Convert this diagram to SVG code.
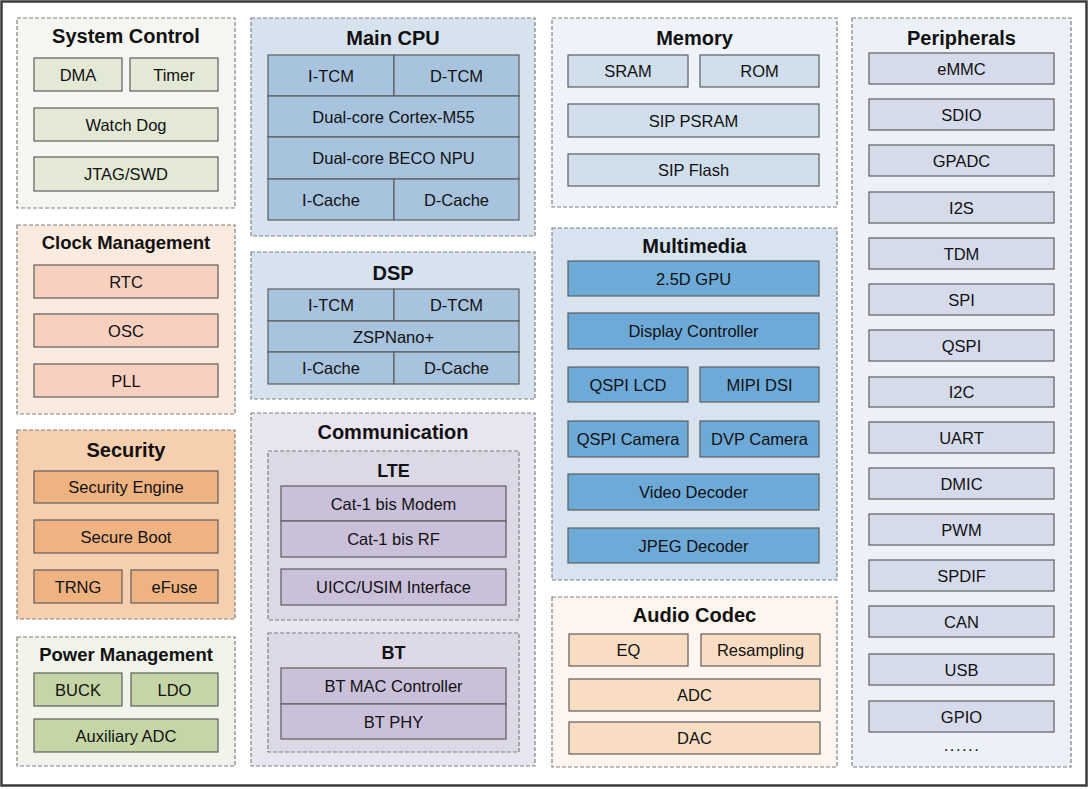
<svg xmlns="http://www.w3.org/2000/svg" width="1092" height="789" viewBox="0 0 1092 789">
<style>
text{font-family:"Liberation Sans",Arial,sans-serif;fill:#111;text-anchor:middle;dominant-baseline:central}
.t{font-weight:bold;font-size:20px}
.st{font-weight:bold;font-size:18px}
.i{font-size:16.5px}
.grp{stroke:#808080;stroke-width:1.2;stroke-dasharray:4 2}
.it{stroke:#5e5e5e;stroke-width:1.2}
.sc{fill:#f5f6f1}.sci{fill:#e4e9d6}
.ck{fill:#fbeade}.cki{fill:#f8d0c0}
.se{fill:#f6cfae}.sei{fill:#efb382}
.pw{fill:#f0f4ea}.pwi{fill:#c6d5a6}
.cp{fill:#d6e3ee}.cpi{fill:#a7c3dd}
.co{fill:#e8e5f0}.lt{fill:#dcd8e6}.coi{fill:#cbc0d9}
.me{fill:#eff2f8}.mei{fill:#d1dfec}
.mm{fill:#d7e4ef}.mmi{fill:#6eaad7}
.au{fill:#fdf5ee}.aui{fill:#f9ddc3}
.pe{fill:#ecf0f7}.pei{fill:#d6dbec}
</style>
<rect x="1.5" y="1.5" width="1085" height="784" fill="#ffffff" stroke="#3c3c3c" stroke-width="2.5"/>

<g id="system-control">
<rect class="grp sc" x="17" y="18" width="218" height="190"/>
<text class="t" x="126" y="36">System Control</text>
<rect class="it sci" x="34" y="58" width="88" height="33"/><text class="i" x="78" y="74.5">DMA</text>
<rect class="it sci" x="130" y="58" width="88" height="33"/><text class="i" x="174" y="74.5">Timer</text>
<rect class="it sci" x="34" y="108" width="184" height="33"/><text class="i" x="126" y="124.5">Watch Dog</text>
<rect class="it sci" x="34" y="157" width="184" height="34"/><text class="i" x="126" y="174">JTAG/SWD</text>
</g>

<g id="clock-management">
<rect class="grp ck" x="17" y="225" width="218" height="189"/>
<text class="t" x="126" y="242" style="font-size:18.5px">Clock Management</text>
<rect class="it cki" x="34" y="265" width="184" height="33"/><text class="i" x="126" y="281.5">RTC</text>
<rect class="it cki" x="34" y="314" width="184" height="33"/><text class="i" x="126" y="330.5">OSC</text>
<rect class="it cki" x="34" y="364" width="184" height="33"/><text class="i" x="126" y="380.5">PLL</text>
</g>

<g id="security">
<rect class="grp se" x="17" y="430" width="218" height="189"/>
<text class="t" x="126" y="449.5">Security</text>
<rect class="it sei" x="34" y="471" width="184" height="32"/><text class="i" x="126" y="487">Security Engine</text>
<rect class="it sei" x="34" y="520" width="184" height="33"/><text class="i" x="126" y="536.5">Secure Boot</text>
<rect class="it sei" x="34" y="570" width="88" height="33"/><text class="i" x="78" y="586.5">TRNG</text>
<rect class="it sei" x="131" y="570" width="87" height="33"/><text class="i" x="174.5" y="586.5">eFuse</text>
</g>

<g id="power-management">
<rect class="grp pw" x="17" y="637" width="218" height="129"/>
<text class="t" x="126" y="654.5" style="font-size:18.5px">Power Management</text>
<rect class="it pwi" x="34" y="673" width="88" height="33"/><text class="i" x="78" y="689.5">BUCK</text>
<rect class="it pwi" x="131" y="673" width="87" height="33"/><text class="i" x="174.5" y="689.5">LDO</text>
<rect class="it pwi" x="34" y="719" width="184" height="33"/><text class="i" x="126" y="735.5">Auxiliary ADC</text>
</g>

<g id="main-cpu">
<rect class="grp cp" x="251" y="18" width="284" height="218"/>
<text class="t" x="393" y="38">Main CPU</text>
<rect class="it cpi" x="268" y="55" width="126" height="41"/><text class="i" x="331" y="75.5">I-TCM</text>
<rect class="it cpi" x="394" y="55" width="125" height="41"/><text class="i" x="456.5" y="75.5">D-TCM</text>
<rect class="it cpi" x="268" y="96" width="251" height="41"/><text class="i" x="393.5" y="116.5">Dual-core Cortex-M55</text>
<rect class="it cpi" x="268" y="137" width="251" height="42"/><text class="i" x="393.5" y="158">Dual-core BECO NPU</text>
<rect class="it cpi" x="268" y="179" width="126" height="41"/><text class="i" x="331" y="199.5">I-Cache</text>
<rect class="it cpi" x="394" y="179" width="125" height="41"/><text class="i" x="456.5" y="199.5">D-Cache</text>
</g>

<g id="dsp">
<rect class="grp cp" x="251" y="252" width="284" height="147"/>
<text class="t" x="393" y="272.5">DSP</text>
<rect class="it cpi" x="268" y="289" width="126" height="32"/><text class="i" x="331" y="305">I-TCM</text>
<rect class="it cpi" x="394" y="289" width="125" height="32"/><text class="i" x="456.5" y="305">D-TCM</text>
<rect class="it cpi" x="268" y="321" width="251" height="31"/><text class="i" x="393.5" y="336.5">ZSPNano+</text>
<rect class="it cpi" x="268" y="352" width="126" height="32"/><text class="i" x="331" y="368">I-Cache</text>
<rect class="it cpi" x="394" y="352" width="125" height="32"/><text class="i" x="456.5" y="368">D-Cache</text>
</g>

<g id="communication">
<rect class="grp co" x="251" y="413" width="284" height="353"/>
<text class="t" x="393" y="431.5">Communication</text>
<g id="lte">
<rect class="grp lt" x="268" y="451" width="251" height="169"/>
<text class="st" x="393.5" y="471">LTE</text>
<rect class="it coi" x="281" y="486" width="225" height="35"/><text class="i" x="393.5" y="503.5">Cat-1 bis Modem</text>
<rect class="it coi" x="281" y="521" width="225" height="36"/><text class="i" x="393.5" y="539">Cat-1 bis RF</text>
<rect class="it coi" x="281" y="569" width="225" height="36"/><text class="i" x="393.5" y="587">UICC/USIM Interface</text>
</g>
<g id="bt">
<rect class="grp lt" x="268" y="633" width="251" height="119"/>
<text class="st" x="393.5" y="652.5">BT</text>
<rect class="it coi" x="281" y="668" width="225" height="36"/><text class="i" x="393.5" y="686">BT MAC Controller</text>
<rect class="it coi" x="281" y="704" width="225" height="35"/><text class="i" x="393.5" y="721.5">BT PHY</text>
</g>
</g>

<g id="memory">
<rect class="grp me" x="552" y="18" width="285" height="189"/>
<text class="t" x="694.5" y="38">Memory</text>
<rect class="it mei" x="568" y="55" width="120" height="32"/><text class="i" x="628" y="71">SRAM</text>
<rect class="it mei" x="700" y="55" width="119" height="32"/><text class="i" x="759.5" y="71">ROM</text>
<rect class="it mei" x="568" y="104" width="251" height="33"/><text class="i" x="693.5" y="120.5">SIP PSRAM</text>
<rect class="it mei" x="568" y="154" width="251" height="32"/><text class="i" x="693.5" y="170">SIP Flash</text>
</g>

<g id="multimedia">
<rect class="grp mm" x="552" y="228" width="285" height="352"/>
<text class="t" x="694.5" y="246">Multimedia</text>
<rect class="it mmi" x="568" y="261" width="251" height="35"/><text class="i" x="693.5" y="278.5">2.5D GPU</text>
<rect class="it mmi" x="568" y="313" width="251" height="36"/><text class="i" x="693.5" y="331">Display Controller</text>
<rect class="it mmi" x="568" y="367" width="120" height="35"/><text class="i" x="628" y="384.5">QSPI LCD</text>
<rect class="it mmi" x="700" y="367" width="119" height="35"/><text class="i" x="759.5" y="384.5">MIPI DSI</text>
<rect class="it mmi" x="568" y="421" width="120" height="36"/><text class="i" x="628" y="439">QSPI Camera</text>
<rect class="it mmi" x="700" y="421" width="119" height="36"/><text class="i" x="759.5" y="439">DVP Camera</text>
<rect class="it mmi" x="568" y="474" width="251" height="36"/><text class="i" x="693.5" y="492">Video Decoder</text>
<rect class="it mmi" x="568" y="528" width="251" height="35"/><text class="i" x="693.5" y="545.5">JPEG Decoder</text>
</g>

<g id="audio-codec">
<rect class="grp au" x="552" y="597" width="285" height="170"/>
<text class="t" x="694.5" y="615">Audio Codec</text>
<rect class="it aui" x="569" y="634" width="119" height="32"/><text class="i" x="628.5" y="650">EQ</text>
<rect class="it aui" x="701" y="634" width="119" height="32"/><text class="i" x="760.5" y="650">Resampling</text>
<rect class="it aui" x="569" y="679" width="251" height="32"/><text class="i" x="694.5" y="695">ADC</text>
<rect class="it aui" x="569" y="722" width="251" height="32"/><text class="i" x="694.5" y="738">DAC</text>
</g>

<g id="peripherals">
<rect class="grp pe" x="852" y="18" width="219" height="749"/>
<text class="t" x="961.5" y="38">Peripherals</text>
<rect class="it pei" x="869" y="53" width="185" height="31"/><text class="i" x="961.5" y="68.5">eMMC</text>
<rect class="it pei" x="869" y="99" width="185" height="31"/><text class="i" x="961.5" y="114.5">SDIO</text>
<rect class="it pei" x="869" y="145" width="185" height="31"/><text class="i" x="961.5" y="160.5">GPADC</text>
<rect class="it pei" x="869" y="192" width="185" height="31"/><text class="i" x="961.5" y="207.5">I2S</text>
<rect class="it pei" x="869" y="238" width="185" height="31"/><text class="i" x="961.5" y="253.5">TDM</text>
<rect class="it pei" x="869" y="284" width="185" height="31"/><text class="i" x="961.5" y="299.5">SPI</text>
<rect class="it pei" x="869" y="330" width="185" height="31"/><text class="i" x="961.5" y="345.5">QSPI</text>
<rect class="it pei" x="869" y="377" width="185" height="30"/><text class="i" x="961.5" y="392">I2C</text>
<rect class="it pei" x="869" y="422" width="185" height="31"/><text class="i" x="961.5" y="437.5">UART</text>
<rect class="it pei" x="869" y="468" width="185" height="31"/><text class="i" x="961.5" y="483.5">DMIC</text>
<rect class="it pei" x="869" y="514" width="185" height="31"/><text class="i" x="961.5" y="529.5">PWM</text>
<rect class="it pei" x="869" y="560" width="185" height="31"/><text class="i" x="961.5" y="575.5">SPDIF</text>
<rect class="it pei" x="869" y="606" width="185" height="31"/><text class="i" x="961.5" y="621.5">CAN</text>
<rect class="it pei" x="869" y="654" width="185" height="31"/><text class="i" x="961.5" y="669.5">USB</text>
<rect class="it pei" x="869" y="701" width="185" height="31"/><text class="i" x="961.5" y="716.5">GPIO</text>
<text class="i" x="962" y="745" style="letter-spacing:1.5px">......</text>
</g>

<g id="connectors"></g>
</svg>
